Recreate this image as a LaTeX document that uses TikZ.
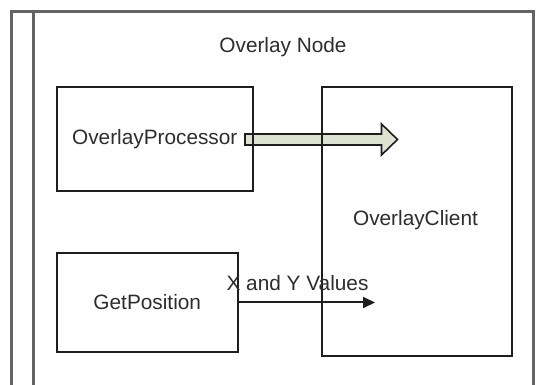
\documentclass[tikz,border=0pt]{standalone}
\usepackage{fontspec}
\setmainfont{Liberation Sans}
\usetikzlibrary{calc,arrows.meta}
\definecolor{framegray}{RGB}{100,100,100}
\definecolor{boxline}{RGB}{30,30,30}
\definecolor{txt}{RGB}{45,45,45}
\definecolor{fatfill}{RGB}{222,226,208}
\tikzset{
  frameline/.style={draw=framegray, line width=2.2pt},
  block/.style={draw=boxline, line width=2pt, rectangle, inner sep=0pt,
    text=txt, font=\fontsize{20.8}{24}\selectfont},
  caption/.style={text=txt, font=\fontsize{20.8}{24}\selectfont, inner sep=0pt},
  fatarrow/.style={draw=boxline, fill=fatfill, line width=1.6pt, line join=miter},
  thinarrow/.style={draw=boxline, line width=2pt, -{Triangle[length=12pt,width=11pt]}}
}
\begin{document}
\begin{tikzpicture}[x=1pt,y=-1pt]
  \useasboundingbox (0,0) rectangle (547,385);
  \fill[white] (0,0) rectangle (547,385);

  % enclosing frame, open at the bottom
  \draw[frameline] (11.5,385) -- (11.5,11.5) -- (533.5,11.5) -- (533.5,385);
  \draw[frameline] (33.5,11.5) -- (33.5,385);

  \node[caption] (title) at (283,47) {Overlay Node};

  % wide arrow from the processor into the client (drawn below the boxes)
  \coordinate (fatstart) at (245,139.5);
  \coordinate (fattip) at (397.5,139.5);
  \draw[fatarrow]
    ($(fatstart)+(0,-5.5)$) -- ($(fattip)+(-16,-5.5)$) -- ($(fattip)+(-16,-15.5)$)
    -- (fattip) -- ($(fattip)+(-16,15.5)$) -- ($(fattip)+(-16,5.5)$)
    -- ($(fatstart)+(0,5.5)$) -- cycle;

  % components
  \node[block, minimum width=196.5pt, minimum height=104pt] (proc) at (154.75,139.5) {OverlayProcessor};
  \node[block, minimum width=181.5pt, minimum height=98pt] (getpos) at (147.25,302.5) {GetPosition};
  \node[block, minimum width=190pt, minimum height=268pt] (client) at (416.5,221.5) {};
  \node[caption] (clientlabel) at (415.5,220) {OverlayClient};

  % position data flow
  \coordinate (xytip) at (375,302.5);
  \draw[thinarrow] (getpos.east) -- (xytip);
  \node[caption] (xylabel) at (297.5,283) {X and Y Values};
\end{tikzpicture}
\end{document}
